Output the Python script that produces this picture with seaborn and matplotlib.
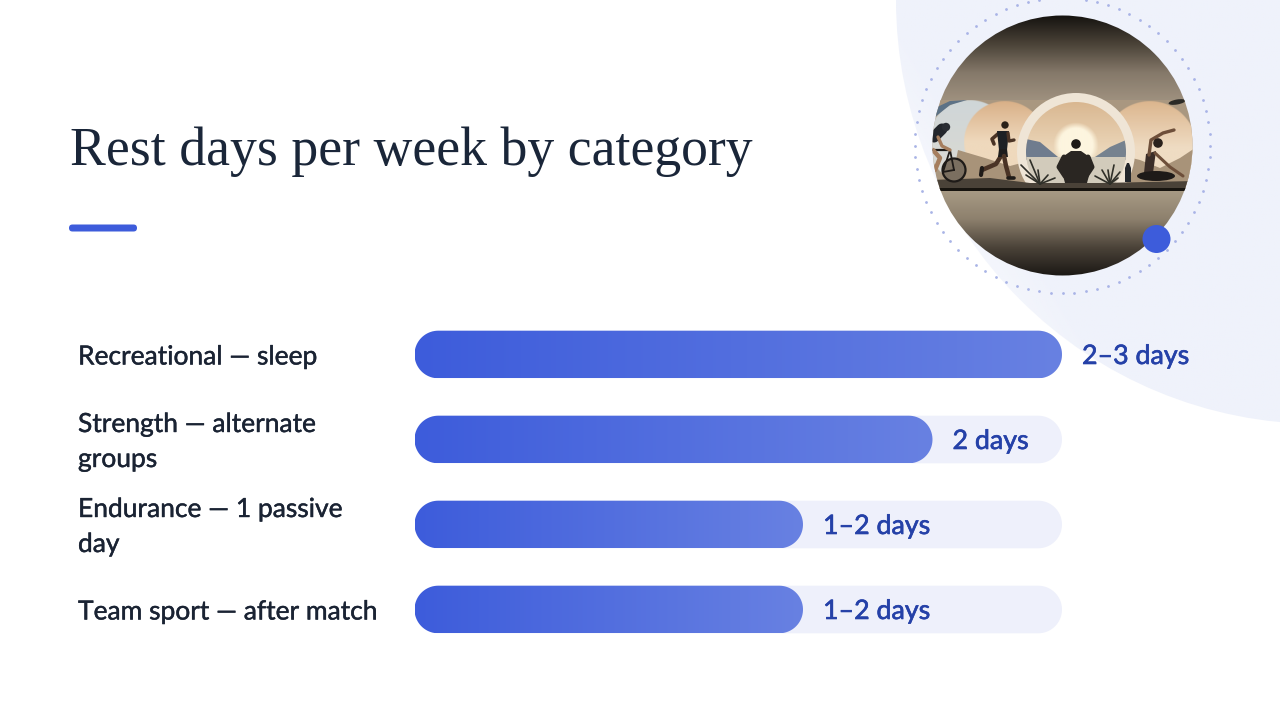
import numpy as np
import seaborn as sns
import matplotlib.pyplot as plt
import matplotlib.patheffects as pe
from matplotlib.colors import LinearSegmentedColormap, to_rgb
from matplotlib.patches import Circle, Ellipse, FancyBboxPatch, Polygon
from matplotlib.transforms import ScaledTranslation

categories = ['Recreational — sleep', 'Strength — alternate\ngroups',
              'Endurance — 1 passive\nday', 'Team sport — after match']
rest_days = [2.5, 2.0, 1.5, 1.5]
day_labels = ['2–3 days', '2 days', '1–2 days', '1–2 days']
scale_max = [2.5, 2.5, 2.5, 2.5]
title = 'Rest days per week by category'

BLUE = '#3d5cdb'
BLUE_LIGHT = '#6881e2'
TRACK = '#eef0fb'
INK = '#1a2333'
VALUE_INK = '#2541a8'
DARK = '#1f1b18'

sns.set_theme(style='white')
plt.rcParams['font.family'] = ['Lato', 'DejaVu Sans']

W, H = 1280, 720
fig = plt.figure(figsize=(12.8, 7.2), dpi=100, facecolor='white')

# background layer, in pixels
bg = fig.add_axes([0, 0, 1, 1], zorder=0)
bg.axis('off')


def vgrad(stops, extent, zorder):
    cmap = LinearSegmentedColormap.from_list('g', stops)
    im = bg.imshow(np.linspace(0, 1, 256)[:, None], cmap=cmap, extent=extent,
                   aspect='auto', zorder=zorder, interpolation='bilinear')
    im.set_clip_path(photo)
    return im


def disc(dx, dy, r, stops, zorder):
    # soft edged gradient disc, the image itself stays clipped to the photo
    yy, xx = np.mgrid[dy - r:dy + r:300j, dx - r:dx + r:300j]
    cmap = LinearSegmentedColormap.from_list('d', stops)
    rgba = cmap((yy - yy.min()) / (2 * r))
    dist = np.hypot(xx - dx, yy - dy)
    rgba[..., 3] = np.clip(r - dist + 0.5, 0, 1)
    im = bg.imshow(rgba, extent=(dx - r, dx + r, dy + r, dy - r), aspect='auto', zorder=zorder)
    im.set_clip_path(photo)
    return im


def limb(points, lw, color=DARK, zorder=16):
    xs, ys = zip(*points)
    line, = bg.plot(xs, ys, color=color, lw=lw, solid_capstyle='round',
                    solid_joinstyle='round', zorder=zorder)
    line.set_clip_path(photo)
    return line


def shape(patch):
    bg.add_patch(patch)
    patch.set_clip_path(photo)
    return patch


# large pale quarter circle, fading towards the lower left
big = Circle((1320, 0), 424, fc='none', ec='none')
bg.add_patch(big)
yy, xx = np.mgrid[0:430:216j, 890:1280:196j]
fade = np.clip(0.85 + (xx - 960) / 180 - (yy - 170) / 300, 0.12, 1)
rgba = np.ones(xx.shape + (4,))
rgba[..., :3] = to_rgb('#eff2fb')
rgba[..., 3] = fade
im = bg.imshow(rgba, extent=(890, 1280, 430, 0), aspect='auto', zorder=1)
im.set_clip_path(big)

# dotted ring
cx, cy, ring = 1062.5, 145.5, 147.5
angles = np.linspace(0, 2 * np.pi, 80, endpoint=False)
bg.scatter(cx + ring * np.cos(angles), cy + ring * np.sin(angles), s=4,
           color='#a9b4e6', linewidths=0, zorder=2)

# round illustration
photo = Circle((cx, cy), 130, fc='none', ec='none')
bg.add_patch(photo)
vgrad(['#14120f', '#4b4338', '#85796a', '#a09280'], (930, 1195, 102, 15), 3)
shape(Polygon([(930, 100), (1195, 100), (1195, 190), (930, 190)], fc='#a99780', ec='none', zorder=3))

# sepia discs
disc(970, 142, 42, ['#cfd6d8', '#dcdad2'], 4)
shape(Polygon([(935, 108), (950, 101), (967, 100), (950, 105), (935, 117)], fc='#5c7286', ec='none', zorder=4))
disc(1005, 142, 41, ['#d9b088', '#efd9bd', '#efd9bd'], 5)
disc(1150, 148, 47, ['#dcb68e', '#efdcc3', '#efdcc3'], 5)

# hills behind runner and yoga
shape(Polygon([(958, 150), (985, 158), (1010, 166), (1040, 158), (1045, 190), (950, 190)],
              fc='#a89379', ec='none', zorder=6))
shape(Polygon([(1120, 155), (1140, 160), (1160, 168), (1180, 158), (1195, 148), (1195, 190), (1115, 190)],
              fc='#a89379', ec='none', zorder=6))

# central arch with sun and lake
shape(Circle((1076, 152), 59, fc='#efe5d6', ec='none', zorder=7))
inner = Circle((1076, 152), 50, fc='none', ec='none')
bg.add_patch(inner)
im = bg.imshow(np.linspace(0, 1, 128)[:, None],
               cmap=LinearSegmentedColormap.from_list('s', ['#d9b791', '#ecd8bb', '#d9d2c4']),
               extent=(1026, 1126, 202, 102), aspect='auto', zorder=8)
im.set_clip_path(inner)
# sun glow
yy, xx = np.mgrid[120:170:100j, 1050:1102:100j]
rgba = np.ones(xx.shape + (4,))
rgba[..., :3] = to_rgb('#fdf5df')
rgba[..., 3] = np.clip((23 - np.hypot(xx - 1076, yy - 145)) / 6, 0, 1)
bg.imshow(rgba, extent=(1050, 1102, 170, 120), aspect='auto', zorder=9)
for pts, col in [([(1026, 139), (1040, 142), (1058, 157), (1026, 160)], '#6f7c8e'),
                 ([(1126, 140), (1110, 147), (1095, 157), (1126, 160)], '#76828f')]:
    p = Polygon(pts, fc=col, ec='none', zorder=10)
    bg.add_patch(p)
    p.set_clip_path(inner)
water = Polygon([(1026, 157), (1126, 157), (1126, 190), (1026, 190)], fc='#d2cbbb', ec='none', zorder=10)
bg.add_patch(water)
water.set_clip_path(inner)

# ground and lower half of the photo
shape(Polygon([(930, 180), (990, 178), (1030, 183), (1100, 183), (1195, 181), (1195, 190), (930, 190)],
              fc='#4a4238', ec='none', zorder=11))
vgrad(['#a89b85', '#8d806d', '#4a4238', '#191613'], (930, 1195, 277, 190), 12)
shape(Polygon([(930, 188), (1195, 188), (1195, 191), (930, 191)], fc='#17140f', ec='none', zorder=13))

# cyclist
shape(Circle((954, 170), 11.5, fc='#7b6f60', ec=DARK, lw=1.6, zorder=14))
limb([(954, 170), (943, 172), (950, 150), (954, 170)], 1.3, zorder=15)
limb([(933, 150), (950, 150)], 1.6, zorder=15)
limb([(934, 137), (942, 129)], 8, '#23262c', zorder=15)
shape(Circle((946, 127), 4.2, fc='#2a2d33', ec='none', zorder=16))
limb([(938, 137), (942, 146), (950, 150)], 2.4, '#a67e5e', zorder=16)
limb([(933, 150), (940, 158), (935, 170)], 3.2, '#a67e5e', zorder=16)

# runner
shape(Circle((1005, 125), 3.7, fc='#2b2119', ec='none', zorder=17))
shape(Polygon([(997, 131), (1009, 131), (1007, 150), (999, 150)], fc='#1d2024', ec='none', zorder=16))
shape(Polygon([(999, 149), (1007, 149), (1008, 157), (998, 157)], fc='#1d1c1c', ec='none', zorder=16))
limb([(999, 133), (992, 139), (994, 144)], 2.6, '#4a3325', zorder=15)
limb([(1008, 133), (1009, 141), (1014, 140)], 2.4, '#4a3325', zorder=17)
limb([(1001, 156), (996, 164), (982, 170)], 3.2, '#4a3325', zorder=15)
limb([(982, 168), (981, 175)], 3, DARK, zorder=15)
limb([(1004, 156), (1006, 166), (1009, 177)], 3.2, '#4a3325', zorder=16)
limb([(1008, 178), (1014, 178)], 2.6, DARK, zorder=16)

# seated man
shape(Circle((1076, 144), 4.8, fc='#1e1a17', ec='none', zorder=17))
shape(Polygon([(1071, 151), (1081, 151), (1091, 158), (1090, 172), (1087, 183), (1065, 183), (1062, 172), (1061, 158)],
              fc='#2a2622', ec='none', zorder=16))
limb([(1064, 157), (1059, 167), (1065, 176)], 3.6, '#2a2622', zorder=17)
limb([(1088, 157), (1092, 167), (1086, 176)], 3.6, '#2a2622', zorder=17)

# yoga figure
shape(Circle((1158, 143), 4.8, fc='#2a211c', ec='none', zorder=17))
shape(Polygon([(1146, 154), (1156, 151), (1153, 173), (1144, 173)], fc='#3a2d28', ec='none', zorder=16))
limb([(1149, 155), (1151, 140), (1163, 133), (1174, 130)], 2.4, '#6e4f3a', zorder=16)
limb([(1155, 153), (1170, 167), (1183, 176)], 2.2, '#6e4f3a', zorder=16)
shape(Ellipse((1156, 176), 38, 10, fc='#1e1a18', ec='none', zorder=16))
shape(Polygon([(1125, 168), (1127, 163), (1129, 163), (1131, 168), (1131, 182), (1125, 182)],
              fc='#22262b', ec='none', zorder=16))

# plants and the branch top right
for base, tips in [((1040, 184), [(1021, 165), (1026, 175), (1030, 160), (1038, 170), (1048, 175), (1055, 178)]),
                   ((1110, 184), [(1095, 176), (1102, 170), (1108, 170), (1114, 165), (1120, 172), (1118, 178)])]:
    for tip in tips:
        limb([base, tip], 1.2, '#2f2f28', zorder=15)
shape(Ellipse((1177, 102), 17, 5, angle=-10, fc='#2b2a26', ec='none', zorder=8))

# accent dot and title rule
bg.add_patch(Circle((1156.5, 239), 14, fc=BLUE, ec='none', zorder=20))
bg.add_patch(FancyBboxPatch((69, 224.5), 68, 7, boxstyle='round,pad=0,rounding_size=3.5',
                            fc=BLUE, ec='none', zorder=3))
bg.text(69.5, 165, title, fontsize=38.7, color='#1a2639', va='baseline',
        family=['Liberation Serif', 'DejaVu Serif'])
bg.set_xlim(0, W)
bg.set_ylim(H, 0)

# the chart
ax = fig.add_axes([414.5 / W, 1 - 652 / H, 647.5 / W, 340 / H], zorder=2)
ax.patch.set_alpha(0)
sns.barplot(x=scale_max, y=categories, orient='h', width=0.56, color=TRACK,
            saturation=1, ax=ax)
sns.barplot(x=rest_days, y=categories, orient='h', width=0.56, color=BLUE,
            saturation=1, ax=ax)
ax.set_xlim(0, 2.5)
ax.set_ylim(3.5, -0.5)
sns.despine(ax=ax, left=True, bottom=True)
ax.xaxis.set_visible(False)
ax.tick_params(axis='y', length=0, pad=336.5 * 0.72, labelsize=19, labelcolor=INK)
thicker = [pe.withStroke(linewidth=0.3, foreground=INK)]
for lab in ax.get_yticklabels():
    lab.set_ha('left')
    lab.set_linespacing(1.5)
    lab.set_path_effects(thicker)
    if '\n' in lab.get_text():
        # two line labels sit a little high in the reference
        lab.set_transform(lab.get_transform() + ScaledTranslation(0, 0.05, fig.dpi_scale_trans))

gradient = LinearSegmentedColormap.from_list('bar', [BLUE, BLUE_LIGHT])
rx = 23.75 * 2.5 / 647.5


def pill(rect, **kw):
    # true half circles on both ends, x and y units differ
    x0, y0, w, h = rect.get_x(), rect.get_y(), rect.get_width(), rect.get_height()
    t = np.linspace(-np.pi / 2, np.pi / 2, 40)
    right = np.c_[x0 + w - rx + rx * np.cos(t), y0 + h / 2 + h / 2 * np.sin(t)]
    left = np.c_[x0 + rx - rx * np.cos(t), y0 + h / 2 - h / 2 * np.sin(t)]
    return Polygon(np.r_[right, left], closed=True, ec='none', **kw)


track_bars, fill_bars = ax.containers[0], ax.containers[1]
for rect in track_bars:
    rect.set_visible(False)
    ax.add_patch(pill(rect, fc=TRACK, zorder=1))
for rect in fill_bars:
    rect.set_visible(False)
    p = pill(rect, fc='none', zorder=2)
    ax.add_patch(p)
    x0, y0, w, h = rect.get_x(), rect.get_y(), rect.get_width(), rect.get_height()
    g = ax.imshow(np.linspace(0, 1, 256)[None, :], cmap=gradient, aspect='auto',
                  extent=(x0, x0 + w, y0 + h, y0), zorder=2)
    g.set_clip_path(p)
ax.set_xlim(0, 2.5)
ax.set_ylim(3.5, -0.5)
value_texts = ax.bar_label(fill_bars, labels=day_labels, padding=20 * 0.72, fontsize=19.3,
                           color=VALUE_INK)
for t in value_texts:
    t.xyann = (t.xyann[0], -2 * 0.72)
    t.set_path_effects([pe.withStroke(linewidth=0.45, foreground=VALUE_INK)])

fig.savefig('out.png', dpi=100)
